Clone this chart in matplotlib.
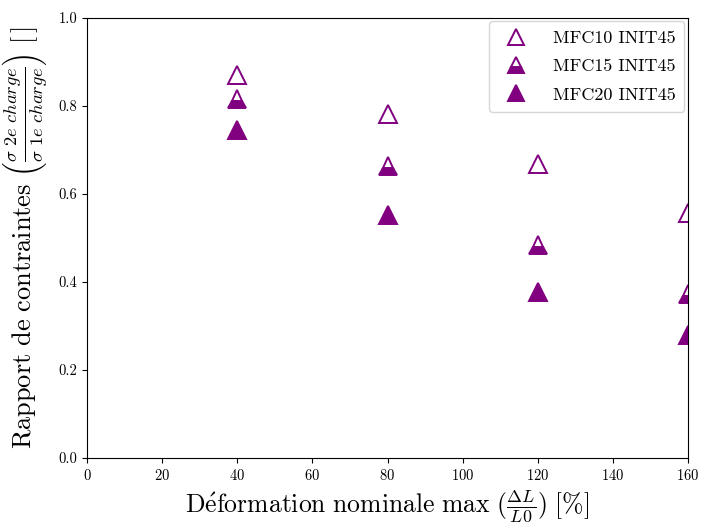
import matplotlib
matplotlib.use("Agg")
import matplotlib.pyplot as plt

plt.rcParams['font.family'] = ['cmr10', 'DejaVu Serif']
plt.rcParams['mathtext.fontset'] = 'cm'
plt.rcParams['axes.formatter.use_mathtext'] = True
plt.rcParams['axes.unicode_minus'] = False

x_vals = [40, 80, 120, 160]
mfc10 = [0.870, 0.782, 0.668, 0.557]
mfc15 = [0.816, 0.664, 0.484, 0.373]
mfc20 = [0.745, 0.552, 0.377, 0.280]
labels = ['MFC10 INIT45', 'MFC15 INIT45', 'MFC20 INIT45']
color = '#800080'

fig = plt.figure(figsize=(7.02, 5.24), dpi=100)
ax = fig.add_axes([0.124, 0.126, 0.856, 0.840])

ms = 12.5
ax.plot(x_vals, mfc10, linestyle='none', marker='^', ms=ms, mfc='white',
        mec=color, mew=1.4, label=labels[0])
ax.plot(x_vals, mfc15, linestyle='none', marker='^', ms=ms, fillstyle='bottom',
        mfc=color, mfcalt='white', mec=color, mew=1.4, label=labels[1])
ax.plot(x_vals, mfc20, linestyle='none', marker='^', ms=ms, mfc=color,
        mec=color, mew=1.4, label=labels[2])

ax.set_xlim(0, 160)
ax.set_ylim(0, 1.0)
ax.set_xticks([0, 20, 40, 60, 80, 100, 120, 140, 160])
ax.set_yticks([0.0, 0.2, 0.4, 0.6, 0.8, 1.0])
ax.set_yticklabels(['0.0', '0.2', '0.4', '0.6', '0.8', '1.0'])
ax.tick_params(labelsize=10.5)

ax.set_xlabel(r'$\mathrm{D\acute{e}formation\ nominale\ max}\ (\frac{\Delta L}{L0})\ [\%]$',
              fontsize=18.5, labelpad=4)
ax.set_ylabel(r'$\mathrm{Rapport\ de\ contraintes}\ \left(\frac{\sigma\ 2e\ charge}{\sigma\ 1e\ charge}\right)\ [\,]$',
              fontsize=19, labelpad=6)

leg = ax.legend(loc='upper right', fontsize=13, frameon=True, fancybox=True,
                edgecolor='#cccccc', handletextpad=1.0, borderpad=0.5,
                labelspacing=0.7, markerscale=0.9, borderaxespad=0.2)

fig.savefig('out.png', dpi=100)
